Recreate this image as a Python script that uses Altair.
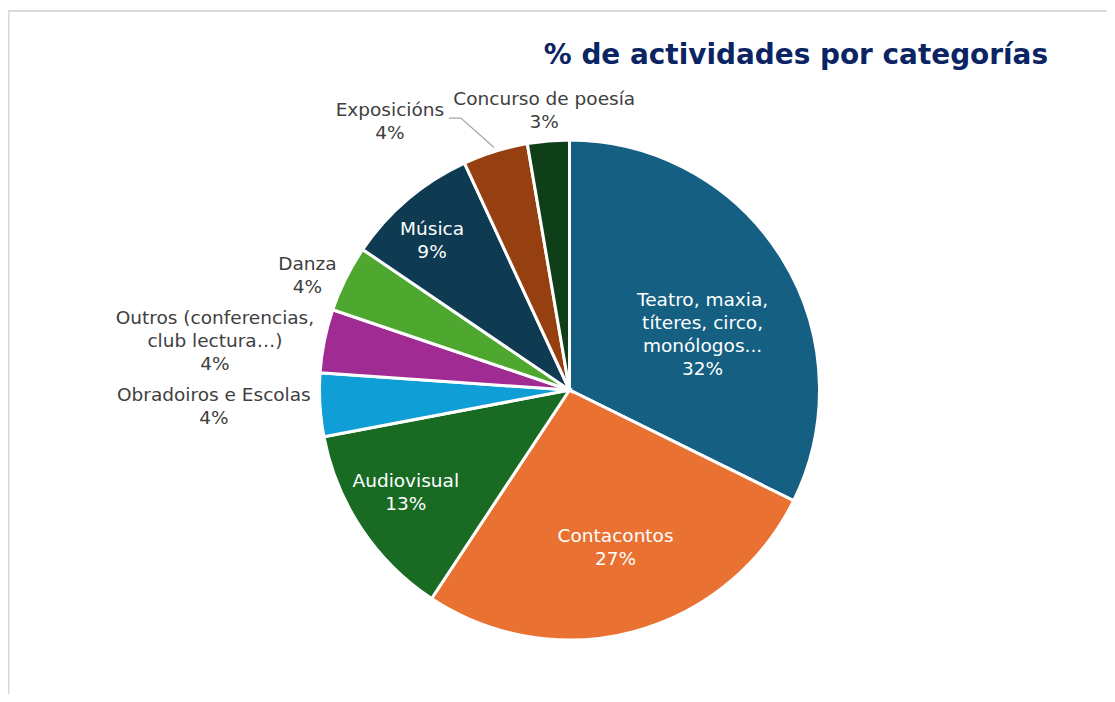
import math
import altair as alt
import pandas as pd

# ---- data ----
categories = [
    "Teatro, maxia,\ntíteres, circo,\nmonólogos...",
    "Contacontos",
    "Audiovisual",
    "Obradoiros e Escolas",
    "Outros (conferencias,\nclub lectura…)",
    "Danza",
    "Música",
    "Exposicións",
    "Concurso de poesía",
]
values = [32.3, 27.0, 12.7, 4.1, 4.1, 4.3, 8.6, 4.2, 2.7]
title_text = "% de actividades por categorías"

# ---- styling / layout ----
colors = ["#156082", "#E97132", "#196B24", "#0F9ED5", "#A02B93",
          "#4EA72E", "#0E3A52", "#963F11", "#0F3F18"]
W, H = 1099, 686
CX, CY = 561.5, 382
R = 250
LINE_H = 23
label_radius = [144, 164, 193, 356, 358, 286, 203, 323, 281]
label_shift_deg = [9.4, -1.2, 1.7, 0.7, -3.4, -2.9, -2.3, -16.5, -0.3]
FONT = "DejaVu Sans"

total = sum(values)
rows = []
cum = 0.0
for i, (c, v) in enumerate(zip(categories, values)):
    mid = cum + v / 2
    cum += v
    lt = mid + label_shift_deg[i] / 360 * total
    lr = label_radius[i]
    label = f"{c}\n{round(v / total * 100)}%"
    rows.append({
        "idx": i,
        "category": c,
        "value": v,
        "mid": mid,
        "ltheta": lt,
        "lr": lr,
        "label": label,
        "nlines": label.count("\n") + 1,
        "tcolor": "#FFFFFF" if lr < R else "#404040",
    })
df = pd.DataFrame(rows)

# leader line for Exposicións (label -> slice edge)
k = 7
ang_l = df.loc[k, "ltheta"] / total * 2 * math.pi
lx = CX + df.loc[k, "lr"] * math.sin(ang_l)
ly = CY - df.loc[k, "lr"] * math.cos(ang_l)
ang_m = df.loc[k, "mid"] / total * 2 * math.pi
ex = CX + (R + 4) * math.sin(ang_m)
ey = CY - (R + 4) * math.cos(ang_m)
leader = pd.DataFrame({
    "o": [0, 1, 2],
    "px": [lx + 59, lx + 71, ex],
    "py": [ly - 3.5, ly - 3.5, ey],
})

theta_scale = alt.Scale(domain=[0, total], range=[0, 2 * math.pi])

arcs = alt.Chart(df).mark_arc(outerRadius=R, stroke="white", strokeWidth=3).encode(
    theta=alt.Theta("value:Q", stack=True, scale=theta_scale),
    order=alt.Order("idx:Q"),
    color=alt.Color("category:N", scale=alt.Scale(domain=categories, range=colors), legend=None),
    x=alt.value(CX),
    y=alt.value(CY),
)

label_layers = []
for n in sorted(df["nlines"].unique()):
    label_layers.append(
        alt.Chart(df).transform_filter(alt.datum.nlines == int(n)).mark_text(
            font=FONT, fontSize=18.5, lineBreak="\n", lineHeight=LINE_H,
            align="center", baseline="middle", dy=-(int(n) - 1) / 2 * LINE_H,
        ).encode(
            theta=alt.Theta("ltheta:Q", scale=theta_scale),
            radius=alt.Radius("lr:Q", scale=alt.Scale(type="linear", domain=[0, 1000], range=[0, 1000], zero=True)),
            text="label:N",
            color=alt.Color("tcolor:N", scale=None),
            x=alt.value(CX),
            y=alt.value(CY),
        )
    )

lead = alt.Chart(leader).mark_line(color="#A6A6A6", strokeWidth=1.3).encode(
    x=alt.X("px:Q", scale=alt.Scale(domain=[0, W], range=[0, W]), axis=None),
    y=alt.Y("py:Q", scale=alt.Scale(domain=[0, H], range=[0, H]), axis=None),
    order="o:Q",
)

title = alt.Chart(pd.DataFrame({"t": [title_text]})).mark_text(
    font=FONT, fontSize=27.9, fontWeight="bold", color="#0B2463",
    align="right", baseline="alphabetic",
).encode(text="t:N", x=alt.value(1040), y=alt.value(56))

border_v = alt.Chart(pd.DataFrame({"a": [0]})).mark_rule(color="#D9D9D9", strokeWidth=2).encode(
    x=alt.value(0.5), y=alt.value(2), y2=alt.value(H + 10))
border_h = alt.Chart(pd.DataFrame({"a": [0]})).mark_rule(color="#D9D9D9", strokeWidth=2).encode(
    x=alt.value(-1), x2=alt.value(W + 10), y=alt.value(3))

chart = alt.layer(border_v, border_h, arcs, lead, *label_layers, title).resolve_scale(
    theta="independent"
).properties(
    width=W, height=H, padding=0,
    autosize=alt.AutoSizeParams(type="none"),
).configure_view(stroke=None)

chart.save("out.html", embed_options={"renderer": "svg", "actions": False})
